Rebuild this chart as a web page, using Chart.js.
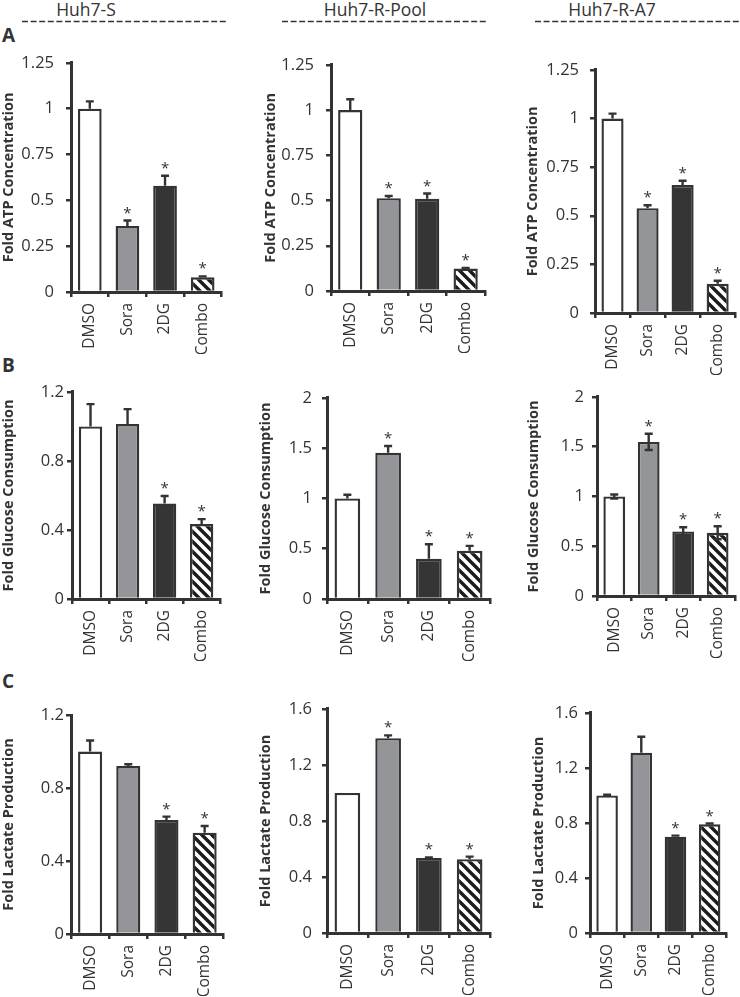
<!DOCTYPE html>
<html>
<head>
<meta charset="utf-8">
<script src="https://cdn.jsdelivr.net/npm/chart.js@4.4.0/dist/chart.umd.min.js"></script>
<style>
html, body { margin: 0; padding: 0; background: #fff; overflow: hidden; }
#fig { position: relative; width: 740px; height: 997px; font-family: 'Open Sans', sans-serif; }
#fig canvas, #fig svg { position: absolute; }
#fig svg text { font-family: 'Open Sans', sans-serif; }
</style>
</head>
<body>
<div id="fig">
<svg id="deco" width="740" height="997" style="left:0;top:0"></svg>
</div>
<script>
// categories
const treatments = ['DMSO', 'Sora', '2DG', 'Combo']
const cellLines = ['Huh7-S', 'Huh7-R-Pool', 'Huh7-R-A7']
const panelLetters = ['A', 'B', 'C']

// row A - ATP
const atpS = [1.0, 0.36, 0.58, 0.08]
const atpSErr = [0.04, 0.03, 0.054, 0.005]
const atpSSig = [0, 1, 1, 1]
const atpPool = [1.0, 0.513, 0.51, 0.124]
const atpPoolErr = [0.06, 0.012, 0.029, 0.003]
const atpPoolSig = [0, 1, 1, 1]
const atpA7 = [1.0, 0.539, 0.658, 0.15]
const atpA7Err = [0.025, 0.015, 0.022, 0.016]
const atpA7Sig = [0, 1, 1, 1]

// row B - glucose
const glucoseS = [1.0, 1.014, 0.553, 0.434]
const glucoseSErr = [0.129, 0.086, 0.044, 0.029]
const glucoseSSig = [0, 0, 1, 1]
const glucosePool = [1.0, 1.455, 0.40, 0.48]
const glucosePoolErr = [0.037, 0.067, 0.145, 0.048]
const glucosePoolSig = [0, 1, 1, 1]
const glucoseA7 = [1.0, 1.548, 0.649, 0.635]
const glucoseA7Err = [0.02, 0.082, 0.041, 0.065]
const glucoseA7Sig = [0, 1, 1, 1]

// row C - lactate
const lactateS = [1.0, 0.92, 0.625, 0.555]
const lactateSErr = [0.06, 0.01, 0.018, 0.037]
const lactateSSig = [0, 0, 1, 1]
const lactatePool = [1.0, 1.391, 0.536, 0.527]
const lactatePoolErr = [0, 0.02, 0.004, 0.018]
const lactatePoolSig = [0, 1, 1, 1]
const lactateA7 = [1.0, 1.311, 0.70, 0.79]
const lactateA7Err = [0.005, 0.116, 0.008, 0.006]
const lactateA7Sig = [0, 0, 1, 1]

// tick labels
const atpTicks = [0, 0.25, 0.5, 0.75, 1, 1.25]
const glucoseTicksS = [0, 0.4, 0.8, 1.2]
const glucoseTicksR = [0, 0.5, 1, 1.5, 2]
const lactateTicksS = [0, 0.4, 0.8, 1.2]
const lactateTicksR = [0, 0.4, 0.8, 1.2, 1.6]

Chart.defaults.font.family = "'Open Sans'"
Chart.defaults.color = '#333'

const INK = '#333333'

// hatch for Combo bars
function hatch() {
	const c = document.createElement('canvas')
	c.width = 10
	c.height = 10
	const g = c.getContext('2d')
	g.fillStyle = '#fff'
	g.fillRect(0, 0, 10, 10)
	g.strokeStyle = '#1c1c1c'
	g.lineWidth = 3.4
	g.beginPath()
	g.moveTo(-5, -5); g.lineTo(15, 15)
	g.moveTo(-5, 5); g.lineTo(5, 15)
	g.moveTo(5, -5); g.lineTo(15, 5)
	g.stroke()
	return g.createPattern(c, 'repeat')
}
const fills = ['#ffffff', '#939598', '#353535', hatch()]

// where each panel sits on the page
const panels = [
	{ vals: atpS, err: atpSErr, sig: atpSSig, ticks: atpTicks, title: 'Fold ATP Concentration', x: 0, axis: 71, right: 222, top: 53, bottom: 292, pad: 12 },
	{ vals: atpPool, err: atpPoolErr, sig: atpPoolSig, ticks: atpTicks, title: 'Fold ATP Concentration', x: 262, axis: 331, right: 485, top: 55, bottom: 291, pad: 12 },
	{ vals: atpA7, err: atpA7Err, sig: atpA7Sig, ticks: atpTicks, title: 'Fold ATP Concentration', x: 524, axis: 595, right: 737, top: 61, bottom: 313, pad: 11 },
	{ vals: glucoseS, err: glucoseSErr, sig: glucoseSSig, ticks: glucoseTicksS, title: 'Fold Glucose Consumption', x: 0, axis: 72, right: 221, top: 391, bottom: 599, pad: 3 },
	{ vals: glucosePool, err: glucosePoolErr, sig: glucosePoolSig, ticks: glucoseTicksR, title: 'Fold Glucose Consumption', x: 257, axis: 327, right: 490, top: 390, bottom: 599, pad: 10 },
	{ vals: glucoseA7, err: glucoseA7Err, sig: glucoseA7Sig, ticks: glucoseTicksR, title: 'Fold Glucose Consumption', x: 525, axis: 597, right: 737, top: 391, bottom: 596, pad: 8, twoSided: true },
	{ vals: lactateS, err: lactateSErr, sig: lactateSSig, ticks: lactateTicksS, title: 'Fold Lactate Production', x: 0, axis: 71, right: 224, top: 715, bottom: 934, pad: 2 },
	{ vals: lactatePool, err: lactatePoolErr, sig: lactatePoolSig, ticks: lactateTicksR, title: 'Fold Lactate Production', x: 257, axis: 327, right: 490, top: 701, bottom: 933, pad: 10 },
	{ vals: lactateA7, err: lactateA7Err, sig: lactateA7Sig, ticks: lactateTicksR, title: 'Fold Lactate Production', x: 530, axis: 590, right: 729, top: 708, bottom: 933, pad: 7 }
]

const PAD_TOP = 12
const PAD_RIGHT = 6
const X_H = 62

const fig = document.getElementById('fig')

panels.forEach(p => {
	const canvas = document.createElement('canvas')
	const cy = p.top - PAD_TOP
	canvas.width = p.right + PAD_RIGHT - p.x
	canvas.height = p.bottom - cy + X_H
	canvas.style.left = p.x + 'px'
	canvas.style.top = cy + 'px'
	fig.appendChild(canvas)

	// error bars + asterisks
	const errorBars = {
		id: 'errorBars',
		afterDatasetsDraw(chart) {
			const { ctx } = chart
			const y = chart.scales.y
			const meta = chart.getDatasetMeta(0)
			ctx.save()
			ctx.strokeStyle = INK
			ctx.fillStyle = INK
			ctx.lineWidth = 2.4
			ctx.font = "15px 'Open Sans'"
			ctx.textAlign = 'center'
			meta.data.forEach((bar, i) => {
				const v = p.vals[i]
				const e = p.err[i]
				const yt = y.getPixelForValue(v + e)
				if (e > 0) {
					ctx.beginPath()
					ctx.moveTo(bar.x, bar.y)
					ctx.lineTo(bar.x, yt)
					ctx.moveTo(bar.x - 4, yt)
					ctx.lineTo(bar.x + 4, yt)
					if (p.twoSided) {
						const yb = y.getPixelForValue(v - e)
						ctx.moveTo(bar.x, bar.y)
						ctx.lineTo(bar.x, yb)
						ctx.moveTo(bar.x - 4, yb)
						ctx.lineTo(bar.x + 4, yb)
					}
					ctx.stroke()
				}
				if (p.sig[i]) ctx.fillText('*', bar.x, yt - 3)
			})
			ctx.restore()
		}
	}

	new Chart(canvas.getContext('2d'), {
		type: 'bar',
		data: {
			labels: treatments,
			datasets: [
				{
					data: p.vals,
					backgroundColor: fills,
					borderColor: INK,
					borderWidth: 2.4,
					barPercentage: 0.63,
					categoryPercentage: 1
				}
			]
		},
		options: {
			responsive: false,
			animation: false,
			layout: { padding: { top: PAD_TOP, right: PAD_RIGHT, left: 0, bottom: 0 } },
			plugins: { legend: { display: false }, tooltip: { enabled: false } },
			scales: {
				x: {
					grid: { offset: true, drawOnChartArea: false, tickLength: 5, color: INK, lineWidth: 2.5 },
					border: { color: INK, width: 3 },
					ticks: { minRotation: 90, maxRotation: 90, padding: 6, font: { size: 15.5 }, color: '#333' },
					afterFit: s => { s.height = X_H }
				},
				y: {
					min: 0,
					max: p.ticks[p.ticks.length - 1],
					afterBuildTicks: s => { s.ticks = p.ticks.map(v => ({ value: v })) },
					grid: { drawOnChartArea: false, tickLength: 5, color: INK, lineWidth: 2.5 },
					border: { color: INK, width: 3 },
					ticks: { padding: p.pad, font: { size: 16.5 }, color: '#333', callback: v => String(+v.toFixed(2)) },
					title: { display: true, text: p.title, font: { size: 14.5, weight: 'bold' }, color: '#333', padding: 0 },
					afterFit: s => { s.width = p.axis - p.x }
				}
			}
		},
		plugins: [errorBars]
	})
})

// column headers, dashed rules, panel letters
const svg = document.getElementById('deco')
const NS = 'http://www.w3.org/2000/svg'
const headerX = [86, 375, 612]
const ruleX = [[22, 228], [282, 487], [535, 740]]
cellLines.forEach((name, i) => {
	const t = document.createElementNS(NS, 'text')
	t.setAttribute('x', headerX[i])
	t.setAttribute('y', 16)
	t.setAttribute('text-anchor', 'middle')
	t.setAttribute('font-size', '17.5')
	t.setAttribute('fill', '#333')
	t.textContent = name
	svg.appendChild(t)
	const l = document.createElementNS(NS, 'line')
	l.setAttribute('x1', ruleX[i][0])
	l.setAttribute('x2', ruleX[i][1])
	l.setAttribute('y1', 21.5)
	l.setAttribute('y2', 21.5)
	l.setAttribute('stroke', '#333')
	l.setAttribute('stroke-width', '1.6')
	l.setAttribute('stroke-dasharray', '6 2.6')
	svg.appendChild(l)
})
const letterY = [42, 372, 688]
panelLetters.forEach((s, i) => {
	const t = document.createElementNS(NS, 'text')
	t.setAttribute('x', 2)
	t.setAttribute('y', letterY[i])
	t.setAttribute('font-size', '19')
	t.setAttribute('font-weight', 'bold')
	t.setAttribute('fill', '#333')
	t.textContent = s
	svg.appendChild(t)
})
</script>
</body>
</html>
